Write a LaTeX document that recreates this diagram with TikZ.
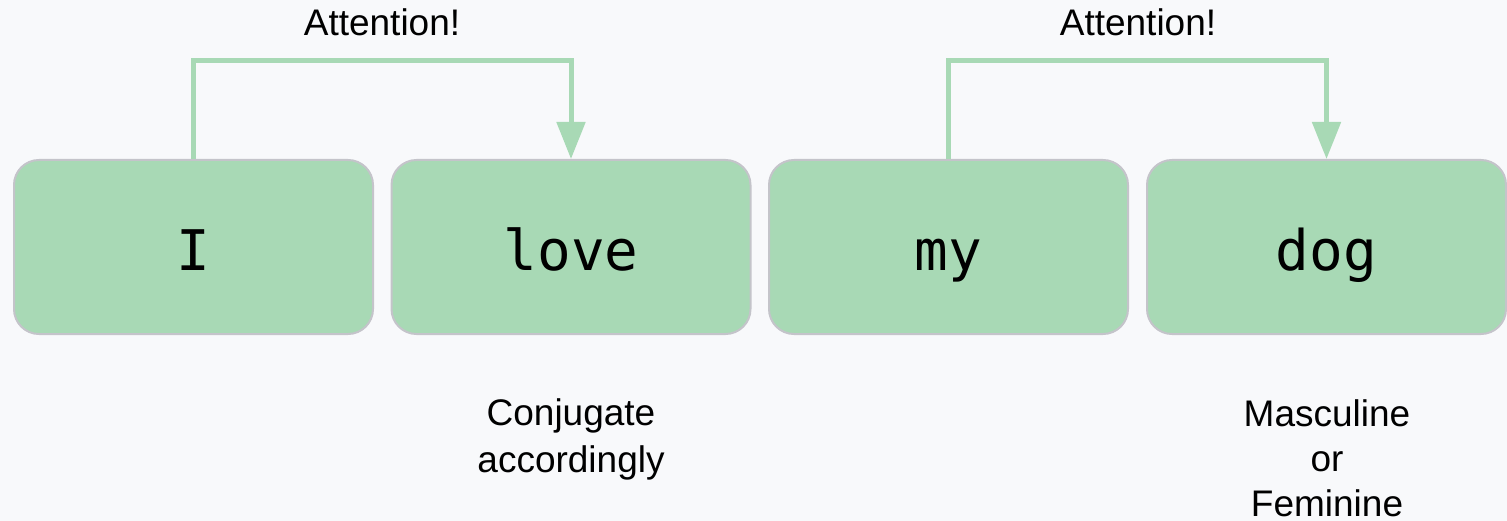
\documentclass[tikz,border=0pt]{standalone}
\usepackage{fontspec}
\setmainfont{Liberation Sans}
\setmonofont{DejaVu Sans Mono}
\usetikzlibrary{arrows.meta}
\definecolor{bg}{HTML}{F8F9FB}
\definecolor{boxfill}{HTML}{A8D9B5}
\definecolor{boxline}{HTML}{C4C4CA}
\begin{document}
\begin{tikzpicture}[x=1pt,y=-1pt,
  word/.style={draw=boxline, line width=2pt, fill=boxfill, rounded corners=25pt,
    minimum width=359pt, minimum height=174pt, inner sep=0pt,
    text height=48pt, text depth=0pt,
    font=\fontsize{56}{60}\selectfont\ttfamily},
  attn/.style={draw=boxfill, line width=5pt, -{Triangle[length=37pt,width=28pt]}},
  lbl/.style={font=\fontsize{37}{47}\selectfont, align=center, inner sep=0pt},
  lblb/.style={font=\fontsize{37}{45}\selectfont, align=center, inner sep=0pt},
  ttl/.style={font=\fontsize{37}{45}\selectfont, inner sep=0pt}]
\fill[bg] (0,0) rectangle (1507,521);
\useasboundingbox (0,0) rectangle (1507,521);
\node[word] (w1) at (193.5,247) {I};
\node[word] (w2) at (571,247) {love};
\node[word] (w3) at (948.5,247) {my};
\node[word] (w4) at (1326.5,247) {dog};
\draw[attn] (w1.north) -- ++(0,-98) -| (w2.north);
\draw[attn] (w3.north) -- ++(0,-98) -| (w4.north);
\node[ttl] (t1) at (382,22) {Attention!};
\node[ttl] (t2) at (1138,22) {Attention!};
\node[lbl] (l1) at (571,439) {Conjugate\\accordingly};
\node[lblb] (l2) at (1327,458) {Masculine\\or\\Feminine};
\end{tikzpicture}
\end{document}
